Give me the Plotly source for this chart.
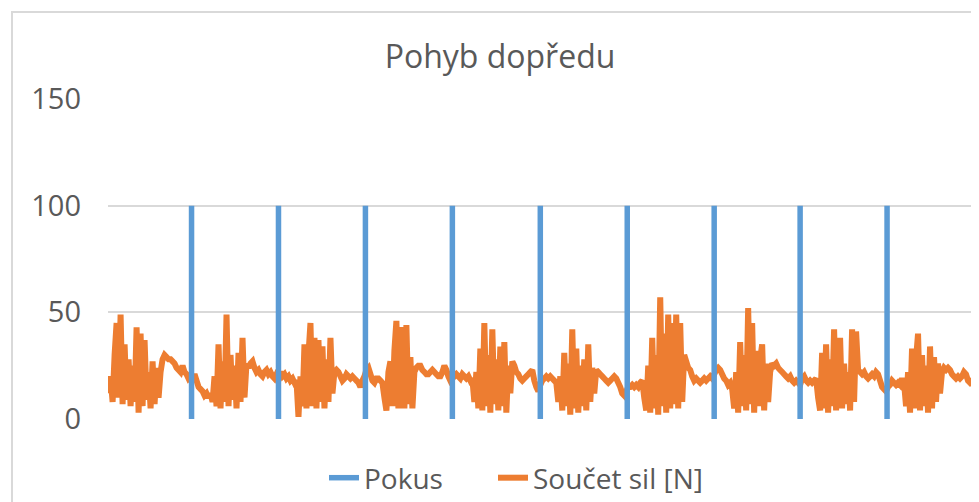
import plotly.graph_objects as go

# ---- data ----
title_text = "Pohyb dopředu"
series_names = ["Pokus", "Součet sil [N]"]
y_ticks = [0, 50, 100, 150]

# sample positions of the "Pokus" markers (value jumps 0 -> 100)
pokus_idx = [41.5, 85, 128.5, 172, 216, 259.5, 303, 346, 389.5]
pokus_low = [0, 0, 0, 0, 0, 0, 0, 0, 0]
pokus_high = [100, 100, 100, 100, 100, 100, 100, 100, 100]

# Součet sil [N], one sample per step
sila = [
    12, 20, 8, 30, 45, 10, 49, 7, 35, 9, 28, 6, 25, 8, 43, 3, 40, 6, 37, 9, 22, 5, 27, 7, 24, 10, 22,
    28, 30, 29, 28, 28, 27, 26, 24, 23, 22, 25, 22, 21, 19, 20, 18, 21, 18, 15, 14, 13, 11, 12, 10, 12,
    8, 20, 6, 35, 5, 27, 8, 49, 6, 30, 9, 25, 5, 31, 8, 38, 10, 26,
    24, 26, 27, 24, 22, 23, 21, 20, 22, 23, 21, 22, 20, 19, 21, 20, 22, 20, 21, 19, 20, 18, 19, 17, 18,
    1, 20, 6, 35, 5, 30, 45, 6, 38, 5, 37, 8, 34, 5, 28, 8, 38, 12,
    22, 23, 22, 20, 18, 19, 21, 20, 19, 20, 19, 18, 17, 15, 18, 20, 23, 24, 21, 18, 17, 19, 19, 18, 17,
    10, 4, 22, 27, 6, 32, 46, 5, 38, 43, 5, 44, 7, 29, 5, 22,
    24, 25, 25, 23, 22, 21, 21, 22, 23, 22, 21, 20, 20, 22, 25, 23, 20, 18, 19, 20, 21, 20, 19, 21, 20,
    19, 20, 18, 19,
    8, 22, 5, 33, 4, 45, 6, 30, 3, 42, 7, 28, 4, 34, 6, 36, 3, 25, 12,
    27, 25, 22, 21, 19, 18, 19, 20, 21, 22, 23, 18, 15, 13, 16, 18, 19, 20, 19, 20, 19, 18, 17,
    8, 20, 4, 31, 6, 26, 2, 42, 5, 33, 3, 25, 6, 28, 4, 35, 8, 24, 12,
    23, 22, 21, 20, 19, 18, 17, 18, 19, 20, 19, 17, 15, 12, 11, 13, 15, 15, 16, 15, 16, 15, 17, 18,
    10, 4, 25, 3, 38, 5, 30, 2, 57, 6, 40, 3, 49, 5, 45, 7, 49, 5, 45, 8, 30,
    27, 24, 23, 20, 18, 19, 18, 17, 18, 19, 18, 19, 20, 19, 21, 23, 24, 23, 21, 19, 18, 16, 17, 14,
    5, 22, 3, 36, 6, 30, 4, 52, 7, 45, 3, 32, 6, 28, 35, 4, 26, 8, 22,
    26, 25, 26, 24, 23, 22, 21, 20, 19, 20, 18, 17, 18, 17, 16, 19, 20, 18, 17, 18, 17, 18, 19,
    10, 4, 31, 5, 35, 3, 28, 6, 42, 4, 30, 38, 5, 26, 7, 22, 4, 42, 8, 41,
    23, 22, 21, 22, 20, 19, 20, 21, 20, 22, 21, 18, 15, 14, 13, 15, 16, 18, 17, 16, 17, 16, 19, 17,
    6, 22, 3, 33, 5, 28, 40, 4, 30, 6, 25, 3, 34, 5, 29, 8, 26, 12, 22,
    24, 23, 24, 23, 21, 20, 19, 20, 19, 20, 22, 21, 18, 17, 18, 16,
]
sample_idx = list(range(len(sila)))

# ---- styling ----
BLUE = "#5B9BD5"
ORANGE = "#ED7D31"
TXT = "#595959"
GRID = "#D9D9D9"
FONT = "Open Sans"

# page body has an 8px margin -> figure coordinates = page coordinates - 8
OFF = 8
W, H = 979 - OFF, 502 - OFF
ML, MR, MT, MB = 108 - OFF, 4, 99 - OFF, 83
PW, PH = W - ML - MR, H - MT - MB

# build Pokus as separate vertical segments
px, py = [], []
for xi, lo, hi in zip(pokus_idx, pokus_low, pokus_high):
    px += [xi, xi, None]
    py += [lo, hi, None]

fig = go.Figure()
fig.add_trace(go.Scatter(
    x=sample_idx, y=sila, mode="lines", name=series_names[1], legend="legend2",
    line=dict(color=ORANGE, width=6, simplify=False),
))
fig.add_trace(go.Scatter(
    x=px, y=py, mode="lines", name=series_names[0], legend="legend",
    line=dict(color=BLUE, width=5.5), connectgaps=False,
))


def pxx(v):
    return (v - OFF - ML) / PW


def pyy(v):
    return (H - MB - (v - OFF)) / PH


LEG_Y = 1 - (478 - OFF) / H
leg_common = dict(orientation="h", xanchor="left", xref="container",
                  y=LEG_Y, yanchor="middle", yref="container",
                  font=dict(size=28, color=TXT, family=FONT),
                  bgcolor="rgba(0,0,0,0)")

fig.update_layout(
    width=W, height=H,
    margin=dict(l=ML, r=MR, t=MT, b=MB),
    paper_bgcolor="white", plot_bgcolor="white",
    font=dict(family=FONT, color=TXT, size=28),
    title=dict(text=title_text, x=(500 - OFF) / W, xanchor="center",
               y=1 - (57 - OFF) / H, yanchor="middle", xref="container", yref="container",
               font=dict(size=32, color=TXT, family=FONT)),
    showlegend=True,
    legend=dict(x=(324 - OFF) / W, **leg_common),
    legend2=dict(x=(493 - OFF) / W, **leg_common),
    xaxis=dict(range=[-0.3, len(sila) - 0.5], showgrid=False, zeroline=False,
               showticklabels=False, showline=False, ticks=""),
    yaxis=dict(range=[0, 150], tickvals=y_ticks, showgrid=True, gridcolor=GRID,
               gridwidth=2, zeroline=False, showline=False, ticks="",
               tickfont=dict(size=29, color=TXT, family=FONT),
               ticklabelstandoff=26),
    shapes=[dict(type="rect", xref="paper", yref="paper",
                 x0=pxx(12), x1=pxx(979 + 10), y0=pyy(502 + 10), y1=pyy(12),
                 line=dict(color=GRID, width=2), fillcolor="rgba(0,0,0,0)",
                 layer="below")],
)

fig.write_html("out.html")
